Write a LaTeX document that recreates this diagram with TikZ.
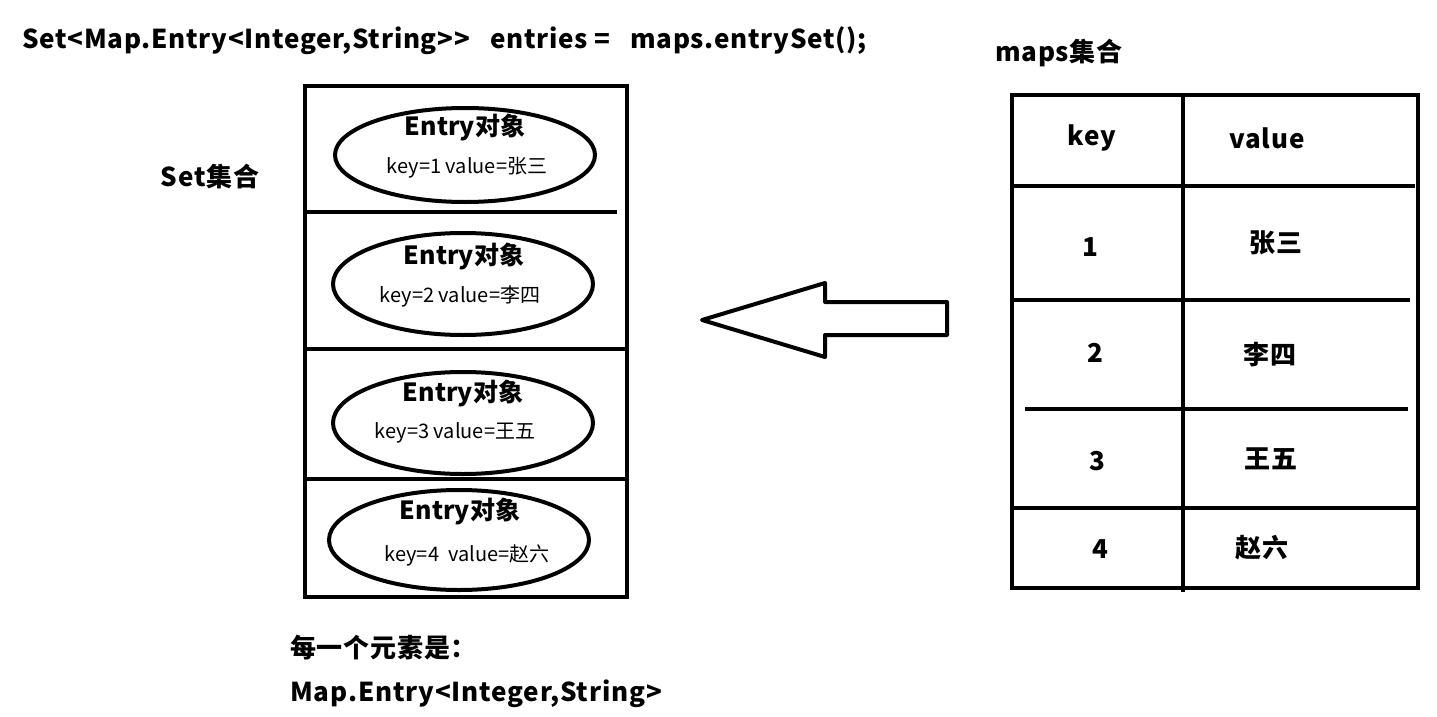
\documentclass[tikz,border=0pt]{standalone}
\usepackage{fontspec}
\setmainfont{Noto Sans CJK SC}
\usetikzlibrary{shapes.geometric}
\begin{document}
\begin{tikzpicture}[x=1pt,y=-1pt,
  thick line/.style={line width=4pt},
  bigtxt/.style={font=\fontsize{26}{30}\selectfont\bfseries\addfontfeature{LetterSpace=3},inner sep=0pt},
  entrytxt/.style={font=\fontsize{25}{30}\selectfont\bfseries,inner sep=0pt},
  smalltxt/.style={font=\fontsize{20}{24}\selectfont,inner sep=0pt},
  entryell/.style={ellipse,draw,line width=4pt,minimum width=260pt,minimum height=98pt,inner sep=0pt}]
\useasboundingbox (0,0) rectangle (1437,717);
% title
\node[bigtxt,anchor=west,font=\fontsize{26}{30}\selectfont\bfseries\addfontfeature{LetterSpace=2.8}] (title) at (22,41) {Set<Map.Entry<Integer,String>{}>\ \ \ entries =\ \ \ maps.entrySet();};
\node[bigtxt] (setlbl) at (210,177) {Set集合};
\node[bigtxt] (mapslbl) at (1059,53) {maps集合};
% set box
\draw[thick line] (305,86) rectangle (627,597);
\coordinate (d1a) at (305,212); \coordinate (d1b) at (617,212);
\coordinate (d2a) at (305,349); \coordinate (d2b) at (627,349);
\coordinate (d3a) at (305,479); \coordinate (d3b) at (627,479);
\draw[thick line] (d1a) -- (d1b);
\draw[thick line] (d2a) -- (d2b);
\draw[thick line] (d3a) -- (d3b);
% entries
\node[entryell,minimum height=94pt] (e1) at (465,155) {};
\node[entryell,minimum height=102pt] (e2) at (463,284) {};
\node[entryell,minimum height=102pt] (e3) at (463,423) {};
\node[entryell,minimum height=100pt] (e4) at (459,540) {};
\node[entrytxt] (e1t) at (465,127) {Entry对象};
\node[smalltxt] (e1k) at (467,168) {key=1 value=张三};
\node[entrytxt] (e2t) at (464,256) {Entry对象};
\node[smalltxt] (e2k) at (460,296) {key=2 value=李四};
\node[entrytxt] (e3t) at (463,393) {Entry对象};
\node[smalltxt] (e3k) at (455,433) {key=3 value=王五};
\node[entrytxt] (e4t) at (460,511) {Entry对象};
\node[smalltxt] (e4k) at (467,555) {key=4\ \ value=赵六};
% arrow
\draw[line width=4pt,line join=round] (702,320) -- (825,283) -- (825,302) -- (947,302) -- (947,335) -- (825,335) -- (825,357) -- cycle;
% table
\draw[thick line] (1012,95) rectangle (1418,588);
\coordinate (vt) at (1183,95); \coordinate (vb) at (1183,592);
\draw[thick line] (vt) -- (vb);
\coordinate (h1a) at (1010,186); \coordinate (h1b) at (1415,186);
\coordinate (h2a) at (1012,300); \coordinate (h2b) at (1410,300);
\coordinate (h3a) at (1025,409); \coordinate (h3b) at (1408,409);
\coordinate (h4a) at (1010,508); \coordinate (h4b) at (1418,508);
\draw[thick line] (h1a) -- (h1b);
\draw[thick line] (h2a) -- (h2b);
\draw[thick line] (h3a) -- (h3b);
\draw[thick line] (h4a) -- (h4b);
\node[bigtxt] (tk) at (1092,138) {key};
\node[bigtxt] (tv) at (1267,138) {value};
\node[bigtxt] (k1) at (1090,247) {1};
\node[bigtxt] (v1) at (1276,243) {张三};
\node[bigtxt] (k2) at (1095,353) {2};
\node[bigtxt] (v2) at (1270,355) {李四};
\node[bigtxt] (k3) at (1097,461) {3};
\node[bigtxt] (v3) at (1271,459) {王五};
\node[bigtxt] (k4) at (1100,549) {4};
\node[bigtxt] (v4) at (1262,548) {赵六};
% bottom
\node[bigtxt,anchor=west] (b1) at (290,648) {每一个元素是：};
\node[bigtxt,anchor=west,font=\fontsize{26}{30}\selectfont\bfseries\addfontfeature{LetterSpace=3.2}] (b2) at (290,694) {Map.Entry<Integer,String>};
\end{tikzpicture}
\end{document}
